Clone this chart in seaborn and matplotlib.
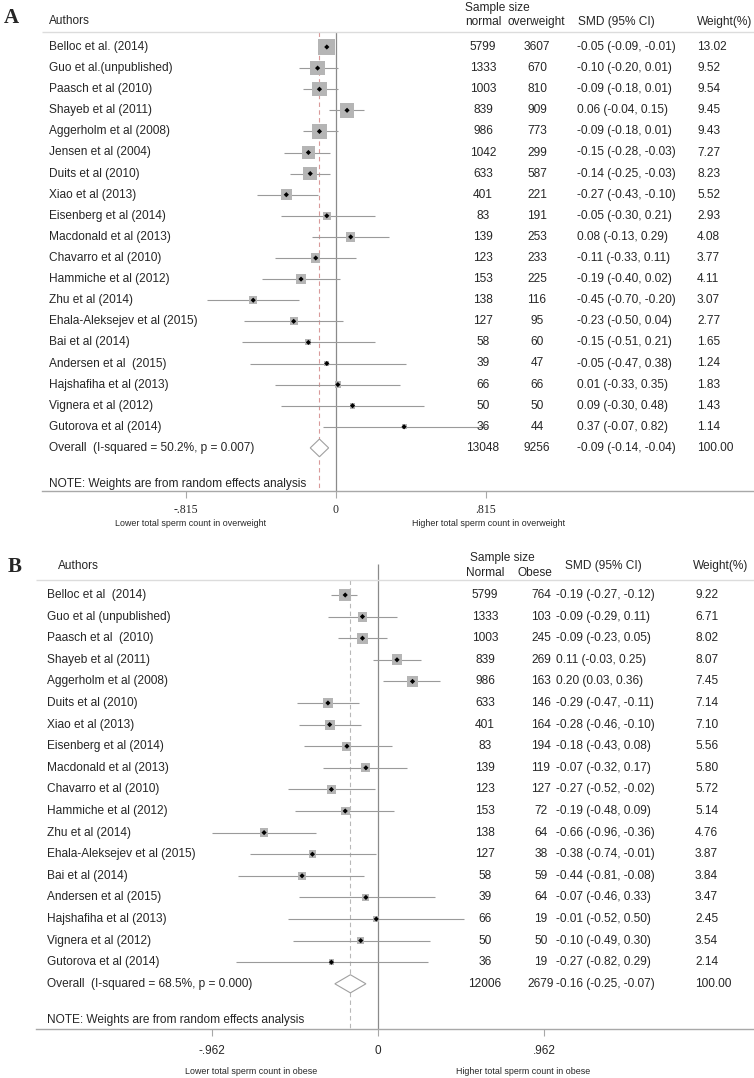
import numpy as np
import pandas as pd
import matplotlib
matplotlib.use("Agg")
import matplotlib.pyplot as plt
import seaborn as sns

# ---- panel A : normal vs overweight ----
authors_a = ["Belloc et al. (2014)", "Guo et al.(unpublished)", "Paasch et al (2010)",
             "Shayeb et al (2011)", "Aggerholm et al (2008)", "Jensen et al (2004)",
             "Duits et al (2010)", "Xiao et al (2013)", "Eisenberg et al (2014)",
             "Macdonald et al (2013)", "Chavarro et al (2010)", "Hammiche et al (2012)",
             "Zhu et al (2014)", "Ehala-Aleksejev et al (2015)", "Bai et al (2014)",
             "Andersen et al  (2015)", "Hajshafiha et al (2013)", "Vignera et al (2012)",
             "Gutorova et al (2014)"]
normal_a = [5799, 1333, 1003, 839, 986, 1042, 633, 401, 83, 139, 123, 153, 138, 127, 58, 39, 66, 50, 36]
over_a = [3607, 670, 810, 909, 773, 299, 587, 221, 191, 253, 233, 225, 116, 95, 60, 47, 66, 50, 44]
smd_a = [-0.05, -0.10, -0.09, 0.06, -0.09, -0.15, -0.14, -0.27, -0.05, 0.08, -0.11, -0.19,
         -0.45, -0.23, -0.15, -0.05, 0.01, 0.09, 0.37]
lo_a = [-0.09, -0.20, -0.18, -0.04, -0.18, -0.28, -0.25, -0.43, -0.30, -0.13, -0.33, -0.40,
        -0.70, -0.50, -0.51, -0.47, -0.33, -0.30, -0.07]
hi_a = [-0.01, 0.01, 0.01, 0.15, 0.01, -0.03, -0.03, -0.10, 0.21, 0.29, 0.11, 0.02,
        -0.20, 0.04, 0.21, 0.38, 0.35, 0.48, 0.82]
weight_a = [13.02, 9.52, 9.54, 9.45, 9.43, 7.27, 8.23, 5.52, 2.93, 4.08, 3.77, 4.11,
            3.07, 2.77, 1.65, 1.24, 1.83, 1.43, 1.14]
overall_a = {"label": "Overall  (I-squared = 50.2%, p = 0.007)", "n1": 13048, "n2": 9256,
             "smd": -0.09, "lo": -0.14, "hi": -0.04, "w": 100.00}
ticks_a = [-0.815, 0, 0.815]
ticklabels_a = ["-.815", "0", ".815"]

# ---- panel B : normal vs obese ----
authors_b = ["Belloc et al  (2014)", "Guo et al (unpublished)", "Paasch et al  (2010)",
             "Shayeb et al (2011)", "Aggerholm et al (2008)", "Duits et al (2010)",
             "Xiao et al (2013)", "Eisenberg et al (2014)", "Macdonald et al (2013)",
             "Chavarro et al (2010)", "Hammiche et al (2012)", "Zhu et al (2014)",
             "Ehala-Aleksejev et al (2015)", "Bai et al (2014)", "Andersen et al (2015)",
             "Hajshafiha et al (2013)", "Vignera et al (2012)", "Gutorova et al (2014)"]
normal_b = [5799, 1333, 1003, 839, 986, 633, 401, 83, 139, 123, 153, 138, 127, 58, 39, 66, 50, 36]
obese_b = [764, 103, 245, 269, 163, 146, 164, 194, 119, 127, 72, 64, 38, 59, 64, 19, 50, 19]
smd_b = [-0.19, -0.09, -0.09, 0.11, 0.20, -0.29, -0.28, -0.18, -0.07, -0.27, -0.19, -0.66,
         -0.38, -0.44, -0.07, -0.01, -0.10, -0.27]
lo_b = [-0.27, -0.29, -0.23, -0.03, 0.03, -0.47, -0.46, -0.43, -0.32, -0.52, -0.48, -0.96,
        -0.74, -0.81, -0.46, -0.52, -0.49, -0.82]
hi_b = [-0.12, 0.11, 0.05, 0.25, 0.36, -0.11, -0.10, 0.08, 0.17, -0.02, 0.09, -0.36,
        -0.01, -0.08, 0.33, 0.50, 0.30, 0.29]
weight_b = [9.22, 6.71, 8.02, 8.07, 7.45, 7.14, 7.10, 5.56, 5.80, 5.72, 5.14, 4.76,
            3.87, 3.84, 3.47, 2.45, 3.54, 2.14]
overall_b = {"label": "Overall  (I-squared = 68.5%, p = 0.000)", "n1": 12006, "n2": 2679,
             "smd": -0.16, "lo": -0.25, "hi": -0.07, "w": 100.00}
ticks_b = [-0.962, 0, 0.962]
ticklabels_b = ["-.962", "0", ".962"]

sns.set_style("white")
plt.rcParams["font.family"] = ["Liberation Sans", "DejaVu Sans"]

W, H = 754, 1078
fig = plt.figure(figsize=(W / 100, H / 100), dpi=100)

BOX = "#b5b5b5"
CI = "#9a9a9a"
FS = 8.6


def draw_panel(ax, lay, authors, n1, n2, smd, lo, hi, w, overall, ticks, ticklabels):
    # lay holds pixel layout; rows are mapped to pixels through y limits
    zero, scale = lay["zero"], lay["scale"]
    r0, step = lay["row0"], lay["step"]
    top, bot = lay["top"], lay["bot"]
    row = lambda p: (p - r0) / step
    fx = lambda p: p / W  # axes fraction for text columns
    ax.set_xlim(-zero / scale, (W - zero) / scale)
    ax.set_ylim(row(bot), row(top))

    df = pd.DataFrame({"author": authors, "n1": n1, "n2": n2, "smd": smd,
                       "lo": lo, "hi": hi, "w": w})
    df["row"] = np.arange(len(df))
    orow = len(df)

    # confidence intervals
    ax.hlines(df["row"], df["lo"], df["hi"], color=CI, lw=0.8, zorder=2)
    # weight boxes (area proportional to weight)
    smax = (np.sqrt(max(w)) * lay["k"] * 0.72) ** 2
    sns.scatterplot(data=df, x="smd", y="row", size="w", sizes=(0, smax),
                    size_norm=(0, max(w)), marker="s", color=BOX, edgecolor="none",
                    linewidth=0, legend=False, ax=ax, zorder=3)
    sns.scatterplot(data=df, x="smd", y="row", marker="D", s=7, color="black",
                    edgecolor="none", legend=False, ax=ax, zorder=4)

    # overall diamond
    dh = 0.42
    ax.fill([overall["lo"], overall["smd"], overall["hi"], overall["smd"]],
            [orow, orow - dh, orow, orow + dh], facecolor="white",
            edgecolor="#a0a0a0", lw=0.8, zorder=3)

    # reference lines
    ax.vlines(0, row(lay["zero_top"]), row(lay["line_bot"]), color="#8a8a8a", lw=0.9, zorder=1)
    ax.vlines(overall["smd"], row(lay["line_top"]), row(lay["line_bot"]), color=lay["dash_c"],
              lw=0.8, linestyles=(0, (4, 3)), zorder=1)
    ax.hlines(row(lay["line_top"]), (lay["line_x"] - zero) / scale, (W - zero) / scale,
              color="#dcdcdc", lw=1.0, zorder=1)

    # bottom axis as the bottom rule
    for s in ["left", "top", "right"]:
        ax.spines[s].set_visible(False)
    sp = ax.spines["bottom"]
    sp.set_position(("data", row(lay["line_bot"])))
    sp.set_bounds((lay["line_x"] - zero) / scale, (W - zero) / scale)
    sp.set_color("#a8a8a8")
    sp.set_linewidth(1.0)
    ax.set_yticks([])
    ax.set_xticks(ticks)
    ax.set_xticklabels(ticklabels, fontsize=lay["tick_fs"], family=lay["tick_font"])
    ax.tick_params(axis="x", direction="out", length=5, width=0.8, color="#a8a8a8",
                   pad=lay["pad"], bottom=True)
    ax.set_xlabel("")
    ax.set_ylabel("")

    yt = ax.get_yaxis_transform()
    # header
    ax.text(fx(lay["authors_x"]), row(lay["auth_y"]), "Authors", transform=yt,
            fontsize=FS, va="center", ha="left")
    ax.text(fx(lay["ss_x"]), row(lay["ss_y"]), "Sample size", transform=yt,
            fontsize=FS, va="center", ha="left")
    ax.text(fx(lay["c1"]), row(lay["grp_y"]), lay["g1"], transform=yt,
            fontsize=FS, va="center", ha="center")
    ax.text(fx(lay["c2"]), row(lay["grp_y"]), lay["g2"], transform=yt,
            fontsize=FS, va="center", ha="center")
    ax.text(fx(lay["smd_hx"]), row(lay["hdr_y"]), "SMD (95% CI)", transform=yt,
            fontsize=FS, va="center", ha="left")
    ax.text(fx(lay["w_hx"]), row(lay["hdr_y"]), "Weight(%)", transform=yt,
            fontsize=FS, va="center", ha="left")

    # rows
    for _, r in df.iterrows():
        y = r["row"]
        ax.text(fx(lay["label_x"]), y, r["author"], transform=yt, fontsize=FS, va="center")
        ax.text(fx(lay["c1"]), y, f"{r['n1']}", transform=yt, fontsize=FS, va="center", ha="center")
        ax.text(fx(lay["c2v"]), y, f"{r['n2']}", transform=yt, fontsize=FS, va="center", ha="center")
        ax.text(fx(lay["smd_x"]), y, f"{r['smd']:.2f} ({r['lo']:.2f}, {r['hi']:.2f})",
                transform=yt, fontsize=FS, va="center")
        ax.text(fx(lay["w_x"]), y, f"{r['w']:.2f}", transform=yt, fontsize=FS, va="center")
    ax.text(fx(lay["label_x"]), orow, overall["label"], transform=yt, fontsize=FS, va="center")
    ax.text(fx(lay["c1"]), orow, f"{overall['n1']}", transform=yt, fontsize=FS, va="center", ha="center")
    ax.text(fx(lay["c2v"]), orow, f"{overall['n2']}", transform=yt, fontsize=FS, va="center", ha="center")
    ax.text(fx(lay["smd_x"]), orow,
            f"{overall['smd']:.2f} ({overall['lo']:.2f}, {overall['hi']:.2f})",
            transform=yt, fontsize=FS, va="center")
    ax.text(fx(lay["w_x"]), orow, f"{overall['w']:.2f}", transform=yt, fontsize=FS, va="center")
    ax.text(fx(lay["label_x"]), row(lay["note_y"]), "NOTE: Weights are from random effects analysis",
            transform=yt, fontsize=FS, va="center")

    # direction labels
    ax.text(fx(lay["sub1_x"]), row(lay["sub_y"]), lay["sub1"], transform=yt,
            fontsize=lay["sub_fs"], va="center", ha="center")
    ax.text(fx(lay["sub2_x"]), row(lay["sub_y"]), lay["sub2"], transform=yt,
            fontsize=lay["sub_fs"], va="center", ha="center")

    # panel letter
    ax.text(fx(lay["letter_x"]), row(lay["letter_y"]), lay["letter"], transform=yt,
            fontsize=15, fontweight="bold", family=["Liberation Serif", "DejaVu Serif"],
            va="center", ha="center")


lay_a = dict(zero=336, scale=184, row0=47, step=21.1, top=0, bot=540, k=4.7,
             zero_top=32, line_top=32, line_bot=491, line_x=42, pad=4.5,
             tick_fs=8.5, tick_font=["Liberation Serif", "DejaVu Serif"], dash_c="#d99a9a",
             authors_x=49, label_x=49, ss_x=465, c1=483, c2=536, c2v=537,
             smd_hx=578, w_hx=697, smd_x=577, w_x=697,
             auth_y=21, ss_y=8, grp_y=22, hdr_y=22, note_y=484,
             g1="normal", g2="overweight",
             sub1_x=191, sub2_x=489, sub_y=523, sub_fs=6.4,
             sub1="Lower total sperm count in overweight",
             sub2="Higher total sperm count in overweight",
             letter="A", letter_x=11, letter_y=18)
lay_b = dict(zero=378, scale=172.6, row0=595, step=21.6, top=540, bot=1078, k=3.8,
             zero_top=564, line_top=580, line_bot=1029, line_x=36, pad=6.5,
             tick_fs=8.5, tick_font=["Liberation Sans", "DejaVu Sans"], dash_c="#b8b8b8",
             authors_x=58, label_x=47, ss_x=470, c1=485, c2=535, c2v=541,
             smd_hx=565, w_hx=693, smd_x=556, w_x=695,
             auth_y=566, ss_y=558, grp_y=573, hdr_y=566, note_y=1020,
             g1="Normal", g2="Obese",
             sub1_x=251, sub2_x=523, sub_y=1072, sub_fs=6.4,
             sub1="Lower total sperm count in obese",
             sub2="Higher total sperm count in obese",
             letter="B", letter_x=15, letter_y=567)

ax_a = fig.add_axes([0, 1 - 540 / H, 1, 540 / H])
ax_b = fig.add_axes([0, 0, 1, 538 / H])
ax_a.patch.set_alpha(0)
ax_b.patch.set_alpha(0)

draw_panel(ax_a, lay_a, authors_a, normal_a, over_a, smd_a, lo_a, hi_a, weight_a,
           overall_a, ticks_a, ticklabels_a)
draw_panel(ax_b, lay_b, authors_b, normal_b, obese_b, smd_b, lo_b, hi_b, weight_b,
           overall_b, ticks_b, ticklabels_b)

fig.savefig("out.png", dpi=100)
